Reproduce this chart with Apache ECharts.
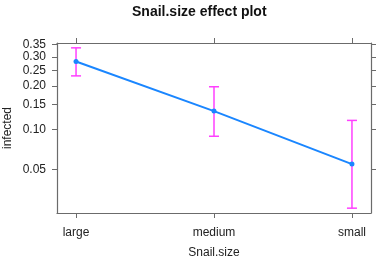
<!DOCTYPE html>
<html>
<head>
<meta charset="utf-8">
<script src="https://cdn.jsdelivr.net/npm/echarts@6/dist/echarts.min.js"></script>
<style>
  html, body { margin: 0; padding: 0; background: #fff; }
  #chart { width: 377px; height: 258px; }
</style>
</head>
<body>
<div id="chart"></div>
<script>
  // values (probability scale)
  var categories = ['large', 'medium', 'small'];
  var fitValues = [0.282, 0.135, 0.055];
  var lowerValues = [0.231, 0.089, 0.025];
  var upperValues = [0.336, 0.197, 0.116];
  var tickValues = [0.05, 0.10, 0.15, 0.20, 0.25, 0.30, 0.35];
  var yLimits = [0.0229, 0.3564];

  function logit(p) { return Math.log(p / (1 - p)); }
  function invLogit(v) { return 1 / (1 + Math.exp(-v)); }

  var AXIS_COLOR = '#6b6b6b'
    , LABEL_COLOR = '#222'
    , FONT = 'Liberation Sans, Arial, sans-serif';

  var yTicks = tickValues.map(logit);
  var xTicks = categories.map(function (c, i) { return i; });

  var lineData = fitValues.map(function (v, i) { return [i, logit(v)]; });
  var barData = categories.map(function (c, i) {
    return [i, logit(lowerValues[i]), logit(upperValues[i])];
  });

  var chart = echarts.init(document.getElementById('chart'), null, { renderer: 'canvas' });

  function xAxisBase(pos) {
    return {
      type: 'value',
      position: pos,
      min: -0.138,
      max: 2.138,
      splitLine: { show: false },
      axisLine: { show: true, onZero: false, lineStyle: { color: AXIS_COLOR, width: 1.2 } },
      axisTick: { show: true, inside: false, length: 5, lineStyle: { color: AXIS_COLOR }, customValues: xTicks },
      axisLabel: { show: pos === 'bottom', customValues: xTicks, margin: 14,
        color: LABEL_COLOR, fontSize: 12, fontFamily: FONT,
        formatter: function (v) { return categories[Math.round(v)]; } }
    };
  }

  function yAxisBase(pos) {
    return {
      type: 'value',
      position: pos,
      min: logit(yLimits[0]),
      max: logit(yLimits[1]),
      splitLine: { show: false },
      axisLine: { show: true, onZero: false, lineStyle: { color: AXIS_COLOR, width: 1.2 } },
      axisTick: { show: true, inside: false, length: 5, lineStyle: { color: AXIS_COLOR }, customValues: yTicks },
      axisLabel: { show: pos === 'left', customValues: yTicks, margin: 11,
        color: LABEL_COLOR, fontSize: 12, fontFamily: FONT,
        formatter: function (v) { return invLogit(v).toFixed(2); } }
    };
  }

  var xBottom = xAxisBase('bottom');
  xBottom.name = 'Snail.size';
  xBottom.nameLocation = 'middle';
  xBottom.nameGap = 34;
  xBottom.nameMoveOverlap = false;
  xBottom.nameTextStyle = { color: LABEL_COLOR, fontSize: 12, fontFamily: FONT };

  var yLeft = yAxisBase('left');
  yLeft.name = 'infected';
  yLeft.nameLocation = 'middle';
  yLeft.nameGap = 43;
  yLeft.nameMoveOverlap = false;
  yLeft.nameTextStyle = { color: LABEL_COLOR, fontSize: 12, fontFamily: FONT };

  chart.setOption({
    animation: false,
    title: {
      text: 'Snail.size effect plot',
      left: 127,
      top: 0,
      textStyle: { fontSize: 14, fontWeight: 'bold', color: '#111', fontFamily: FONT }
    },
    grid: { left: 57, right: 6, top: 43, bottom: 45, containLabel: false, outerBoundsMode: 'none' },
    xAxis: [xBottom, xAxisBase('top')],
    yAxis: [yLeft, yAxisBase('right')],
    series: [
      {
        type: 'line',
        data: lineData,
        symbol: 'circle',
        symbolSize: 5,
        lineStyle: { color: '#1a86ff', width: 2 },
        itemStyle: { color: '#1a86ff' },
        z: 3
      },
      {
        type: 'custom',
        data: barData,
        z: 2,
        renderItem: function (params, api) {
          var lo = api.coord([api.value(0), api.value(1)]);
          var hi = api.coord([api.value(0), api.value(2)]);
          var w = 5;
          var style = { stroke: '#ff40ff', lineWidth: 1.5 };
          return {
            type: 'group',
            children: [
              { type: 'line', shape: { x1: lo[0], y1: lo[1], x2: hi[0], y2: hi[1] }, style: style },
              { type: 'line', shape: { x1: lo[0] - w, y1: lo[1], x2: lo[0] + w, y2: lo[1] }, style: style },
              { type: 'line', shape: { x1: hi[0] - w, y1: hi[1], x2: hi[0] + w, y2: hi[1] }, style: style }
            ]
          };
        }
      }
    ]
  });
</script>
</body>
</html>
